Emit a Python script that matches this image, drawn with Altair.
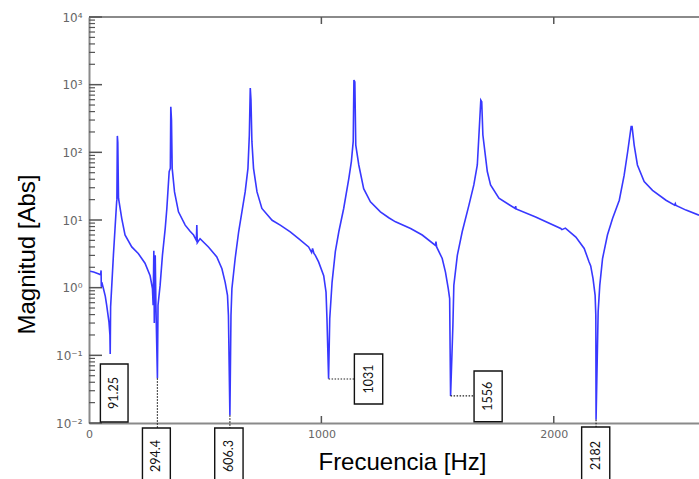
import altair as alt
import pandas as pd
import math

# ---------------- data ----------------
freq = [5, 20, 40, 50, 52, 53, 55, 62, 70, 76, 86, 90, 91.25, 93, 98, 105, 112, 119,
        120, 122, 124, 127, 141, 155, 184, 212, 241, 263, 273, 276, 279, 281, 285, 288,
        294.4, 297, 306, 316, 328, 335, 345, 350, 352, 355, 358, 368, 385, 414, 435, 450,
        462, 464, 466, 478, 514, 550, 572, 586, 596, 600, 606.3, 611, 615, 629, 644, 658,
        672, 684, 690, 694, 697, 701, 708, 723, 744, 788, 823, 866, 902, 945, 958, 962,
        968, 974, 988, 1010, 1020, 1024, 1031, 1036, 1046, 1060, 1075, 1096, 1118, 1129,
        1137, 1140, 1144, 1148, 1161, 1182, 1211, 1254, 1290, 1319, 1384, 1434, 1491,
        1493, 1496, 1520, 1534, 1546, 1552, 1554, 1556, 1566, 1570, 1585, 1606, 1635,
        1656, 1671, 1678, 1686, 1690, 1695, 1707, 1714, 1728, 1764, 1834, 1836, 1838,
        1922, 2030, 2035, 2050, 2095, 2131, 2152, 2159, 2169, 2178, 2181, 2182, 2191,
        2198, 2210, 2231, 2253, 2282, 2303, 2318, 2333, 2337, 2346, 2360, 2389, 2425,
        2483, 2520, 2523, 2526, 2569, 2625]
mag = [1.75, 1.7, 1.6, 1.55, 1.8, 1.03, 1.2, 0.97, 0.75, 0.55, 0.31, 0.2, 0.105, 0.52,
       1.08, 3.0, 7.5, 18.6, 20, 175, 140, 21, 10.5, 6.0, 4.0, 3.2, 2.3, 1.5, 0.97, 0.55,
       3.5, 0.3, 3.0, 0.55, 0.046, 0.55, 1.08, 3.0, 7.5, 14.8, 52, 58, 470, 300, 58, 26,
       13.2, 8.4, 6.8, 6.0, 5.0, 8.4, 4.6, 5.3, 4.0, 2.85, 1.9, 1.2, 0.77, 0.39, 0.013,
       0.39, 0.97, 2.7, 6.7, 13.2, 26, 58, 180, 890, 600, 145, 58, 26, 14.8, 9.9, 8.4,
       6.7, 5.3, 4.0, 3.3, 3.8, 3.2, 3.0, 2.4, 1.5, 0.86, 0.35, 0.045, 0.35, 1.2, 3.4,
       6.7, 14.8, 41, 73, 145, 1170, 1100, 128, 65, 29, 18.6, 13.2, 10.8, 9.4, 7.5, 6.0,
       4.2, 4.8, 4.0, 2.7, 1.7, 0.97, 0.69, 0.125, 0.025, 0.28, 1.08, 3.0, 6.7, 16.6, 33,
       65, 180, 590, 560, 180, 82, 52, 33, 21, 14.8, 16, 14.6, 11.1, 7.5, 7.2, 7.6, 5.6,
       3.8, 2.4, 2.1, 1.36, 0.77, 0.39, 0.0112, 0.44, 1.08, 2.7, 6.0, 10.5, 19.6, 46,
       102, 240, 240, 128, 65, 37, 27.5, 19.6, 16.6, 17.5, 16.4, 14, 11.8]

y_major = [0.01, 0.1, 1, 10, 100, 1000, 10000]
y_minor_mult = [2, 3, 4, 5, 6, 7, 8, 9]
x_ticks = [0, 1000, 2000]
x_inner_ticks = [1000, 2000]

ann_text = ["91.25", "294.4", "606.3", "1031", "1556", "2182"]
box_f0 = [49, 230, 541, 1142, 1657, 2120]
box_f1 = [168, 350, 663, 1264, 1778, 2241]
box_mtop = [0.0745, 0.00844, 0.00844, 0.1047, 0.0586, 0.00873]
box_mbot = [0.01035, 0.00126, 0.00126, 0.0191, 0.01045, 0.00126]

lead_f0 = [294.4, 606.3, 1031, 1556, 2182]
lead_f1 = [294.4, 606.3, 1142, 1657, 2182]
lead_m0 = [0.046, 0.013, 0.0447, 0.0251, 0.0112]
lead_m1 = [0.00844, 0.00844, 0.0447, 0.0251, 0.00873]

# ---------------- tables ----------------
W, H = 610, 406
curve = pd.DataFrame({"f": freq, "m": mag})
minor = pd.DataFrame({"m": [k * d for d in y_major[:-1] for k in y_minor_mult]})
major = pd.DataFrame({"m": y_major})
xt = pd.DataFrame({"f": x_inner_ticks})
boxes = pd.DataFrame({"f": box_f0, "f2": box_f1, "m": box_mtop, "m2": box_mbot,
                      "txt": ann_text})
boxes["fc"] = (boxes["f"] + boxes["f2"]) / 2
boxes["mc"] = [math.sqrt(a * b) for a, b in zip(box_mtop, box_mbot)]
leads = pd.DataFrame({"f": lead_f0, "f2": lead_f1, "m": lead_m0, "m2": lead_m1})

xs = alt.Scale(domain=[0, 2625], nice=False, zero=False)
ys = alt.Scale(type="log", domain=[0.01, 10000], nice=False)

x_axis = alt.Axis(values=x_ticks, format="d", ticks=False, grid=False,
                  domainColor="#8a8a8a", domainWidth=2, labelColor="#666666",
                  labelFont="DejaVu Sans", labelFontSize=11, labelPadding=5,
                  labelFlush=False,
                  title="Frecuencia [Hz]", titleFont="Liberation Sans", titleFontSize=24,
                  titleFontWeight="normal", titleColor="#000000", titleX=313, titleY=39,
                  titleAlign="center", titleBaseline="middle")
y_axis = alt.Axis(values=y_major, ticks=False, grid=False, domainColor="#8a8a8a",
                  domainWidth=2, labelColor="#666666", labelFont="DejaVu Sans",
                  labelFontSize=12, labelPadding=7, labelFlush=False,
                  labelExpr="'10' + ['⁻²','⁻¹','⁰','¹','²','³','⁴'][round(log(datum.value)/LN10)+2]",
                  title="Magnitud [Abs]", titleFont="Liberation Sans", titleFontSize=24,
                  titleFontWeight="normal", titleColor="#000000", titleX=-62, titleY=237,
                  titleAlign="center", titleBaseline="middle", titleAngle=270)

X = alt.X("f:Q", scale=xs, axis=x_axis)
Y = alt.Y("m:Q", scale=ys, axis=y_axis)

line = alt.Chart(curve).mark_line(color="#3838ff", strokeWidth=1.6, clip=True).encode(
    x=X, y=Y, order="f:Q")

minor_t = alt.Chart(minor).mark_rule(color="#555555", strokeWidth=1.2).encode(
    y=Y, x=alt.value(0), x2=alt.value(6))
major_t = alt.Chart(major).mark_rule(color="#555555", strokeWidth=1.5).encode(
    y=Y, x=alt.value(0), x2=alt.value(13))
bot_t = alt.Chart(xt).mark_rule(color="#555555", strokeWidth=1.5).encode(
    x=X, y=alt.value(H), y2=alt.value(H - 7))
top_t = alt.Chart(xt).mark_rule(color="#555555", strokeWidth=1.5).encode(
    x=X, y=alt.value(0), y2=alt.value(7))
top_line = alt.Chart(major).mark_rule(color="#8a8a8a", strokeWidth=2).encode(
    x=alt.value(0), x2=alt.value(W), y=alt.value(0))

lead = alt.Chart(leads).mark_rule(color="#222222", strokeWidth=1.2,
                                  strokeDash=[1.5, 1.5]).encode(
    x=X, x2="f2:Q", y=Y, y2="m2:Q")
box = alt.Chart(boxes).mark_rect(fill="white", stroke="#111111", strokeWidth=1.4).encode(
    x=X, x2="f2:Q", y=Y, y2="m2:Q")
txt = alt.Chart(boxes).mark_text(angle=270, font="Lato", fontSize=12.5, color="#111111",
                                 align="center", baseline="middle").encode(
    x=alt.X("fc:Q", scale=xs, axis=x_axis), y=alt.Y("mc:Q", scale=ys, axis=y_axis),
    text="txt:N")

chart = alt.layer(top_line, minor_t, major_t, bot_t, top_t, line, lead, box, txt).properties(
    width=W, height=H, autosize="none",
    padding={"left": 89, "top": 17, "right": 0, "bottom": 56},
).configure_view(stroke=None).configure(background="white")

chart.save("out.html", embed_options={"renderer": "svg", "actions": False})
